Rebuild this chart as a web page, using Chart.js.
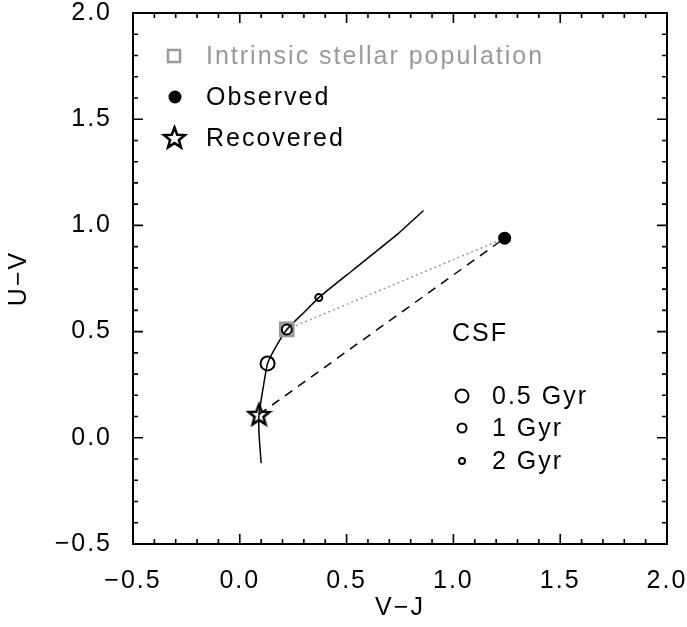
<!DOCTYPE html>
<html>
<head>
<meta charset="utf-8">
<script src="https://cdn.jsdelivr.net/npm/chart.js@4"></script>
<style>
  body { margin: 0; background: #fff; }
  #wrap { width: 687px; height: 627px; }
</style>
</head>
<body>
<div id="wrap"><canvas id="chart" width="687" height="627"></canvas></div>
<script>
// evolutionary track (CSF)
const trackX = [0.10, 0.09, 0.09, 0.11, 0.13, 0.17, 0.22, 0.30, 0.37, 0.53, 0.74, 0.86];
const trackY = [-0.12, 0.02, 0.11, 0.24, 0.35, 0.43, 0.51, 0.59, 0.66, 0.79, 0.96, 1.07];

// age markers on the track
const ageLabels = ['0.5 Gyr', '1 Gyr', '2 Gyr'];
const ageX = [0.13, 0.22, 0.37];
const ageY = [0.35, 0.51, 0.66];

const intrinsic = {x: 0.22, y: 0.51};
const observed = {x: 1.24, y: 0.94};
const recovered = {x: 0.09, y: 0.11};

const axisMin = -0.5;
const axisMax = 2.0;

const FONT = 'Liberation Sans, Arial, sans-serif';
const SPACING = '2px';
const ageRadius = [7, 5, 3.5];

// 5-point open star
function makeStar(size){
  const c = document.createElement('canvas');
  c.width = size; c.height = size;
  const g = c.getContext('2d');
  const cx = size/2, cy = size/2 + 1, R = size/2 - 2.5, r = R*0.42;
  g.beginPath();
  for(let i=0;i<10;i++){
    const a = -Math.PI/2 + i*Math.PI/5;
    const rr = i%2 ? r : R;
    const px = cx + rr*Math.cos(a), py = cy + rr*Math.sin(a);
    if(i===0) g.moveTo(px,py); else g.lineTo(px,py);
  }
  g.closePath();
  g.lineWidth = 2.5;
  g.strokeStyle = '#000';
  g.stroke();
  return c;
}
const starImg = makeStar(27);

const framePlugin = {
  id: 'frame',
  beforeDraw(chart){ chart.ctx.letterSpacing = SPACING; },
  afterDraw(chart){
    const {ctx, chartArea: a, scales: {x, y}} = chart;
    ctx.save();
    ctx.strokeStyle = '#000';
    ctx.lineWidth = 2;
    ctx.strokeRect(a.left, a.top, a.right - a.left, a.bottom - a.top);
    ctx.lineWidth = 1.6;
    ctx.beginPath();
    for(let i=0;i<=25;i++){
      const v = axisMin + i*0.1;
      const len = i%5===0 ? 10 : 5;
      const px = x.getPixelForValue(v);
      ctx.moveTo(px, a.bottom); ctx.lineTo(px, a.bottom - len);
      ctx.moveTo(px, a.top); ctx.lineTo(px, a.top + len);
      const py = y.getPixelForValue(v);
      ctx.moveTo(a.left, py); ctx.lineTo(a.left + len, py);
      ctx.moveTo(a.right, py); ctx.lineTo(a.right - len, py);
    }
    ctx.stroke();

    // legend, top left
    ctx.letterSpacing = SPACING;
    ctx.font = '25px ' + FONT;
    ctx.textBaseline = 'middle';
    ctx.textAlign = 'left';
    const lx = 174, tx = 206;
    ctx.strokeStyle = '#999'; ctx.lineWidth = 2.5;
    ctx.strokeRect(lx - 6, 56 - 6, 12, 12);
    ctx.fillStyle = '#999';
    ctx.fillText('Intrinsic stellar population', tx, 57);
    ctx.fillStyle = '#000';
    ctx.beginPath(); ctx.arc(lx + 1, 97, 6.5, 0, Math.PI*2); ctx.fill();
    ctx.fillText('Observed', tx, 98);
    ctx.drawImage(starImg, lx - 13, 138 - 14);
    ctx.fillText('Recovered', tx, 139);

    // CSF age legend
    ctx.fillText('CSF', 452, 334);
    const ys = [396, 428, 461];
    ctx.strokeStyle = '#000';
    ctx.lineWidth = 2;
    ageLabels.forEach((t, i) => {
      ctx.beginPath(); ctx.arc(462, ys[i], ageRadius[i] - 0.5, 0, Math.PI*2); ctx.stroke();
      ctx.fillText(t, 492, ys[i] + 1);
    });
    ctx.restore();
  }
};

const fmt = v => (Math.abs(v) < 1e-9 ? 0 : v).toFixed(1).replace('-', '\u2212');
const noPad = s => { s.paddingLeft = 0; s.paddingRight = 0; s.paddingTop = 0; s.paddingBottom = 0; };

const ctx = document.getElementById('chart').getContext('2d');
ctx.letterSpacing = SPACING;
new Chart(ctx, {
  type: 'scatter',
  data: {
    datasets: [{
      label: 'track',
      data: trackX.map((v,i)=>({x: v, y: trackY[i]})),
      showLine: true,
      borderColor: '#000',
      borderWidth: 1.5,
      pointRadius: 0,
      tension: 0.15,
      order: 5
    }, {
      label: 'intrinsic-observed',
      data: [intrinsic, observed],
      showLine: true,
      borderColor: '#999',
      borderWidth: 1.5,
      borderDash: [2, 3],
      pointRadius: 0,
      order: 5
    }, {
      label: 'recovered-observed',
      data: [recovered, observed],
      showLine: true,
      borderColor: '#000',
      borderWidth: 1.5,
      borderDash: [9, 7],
      pointRadius: 0,
      order: 5
    }, {
      label: 'Intrinsic stellar population',
      data: [intrinsic],
      pointStyle: 'rect',
      pointRadius: 9,
      borderColor: '#999',
      borderWidth: 3,
      backgroundColor: 'rgba(0,0,0,0)',
      order: 3
    }, {
      label: 'ages',
      data: ageX.map((v,i)=>({x: v, y: ageY[i]})),
      pointRadius: ageRadius,
      borderColor: '#000',
      borderWidth: 2,
      backgroundColor: 'rgba(0,0,0,0)',
      order: 2
    }, {
      label: 'Observed',
      data: [observed],
      pointRadius: 6.5,
      backgroundColor: '#000',
      borderColor: '#000',
      borderWidth: 0,
      order: 1
    }, {
      label: 'Recovered',
      data: [recovered],
      pointStyle: starImg,
      order: 1
    }]
  },
  options: {
    responsive: false,
    animation: false,
    devicePixelRatio: 1,
    layout: { padding: { left: 0, top: 13, right: 20, bottom: 0 } },
    plugins: { legend: { display: false }, tooltip: { enabled: false } },
    scales: {
      x: {
        type: 'linear', min: axisMin, max: axisMax,
        grid: { display: false },
        border: { display: false },
        ticks: { stepSize: 0.5, color: '#000', padding: 14, maxRotation: 0,
          font: { family: FONT, size: 25 }, callback: fmt },
        title: { display: true, text: 'V\u2212J', color: '#000',
          font: { family: FONT, size: 25 }, padding: { top: 0, bottom: 4 } },
        afterFit(s){ s.height = 83; noPad(s); }
      },
      y: {
        type: 'linear', min: axisMin, max: axisMax,
        grid: { display: false },
        border: { display: false },
        ticks: { stepSize: 0.5, color: '#000', padding: 13,
          font: { family: FONT, size: 25 }, callback: fmt },
        title: { display: true, text: 'U\u2212V', color: '#000',
          font: { family: FONT, size: 25 }, padding: { top: 4, bottom: 0 } },
        afterFit(s){ s.width = 133; noPad(s); }
      }
    }
  },
  plugins: [framePlugin]
});
</script>
</body>
</html>
